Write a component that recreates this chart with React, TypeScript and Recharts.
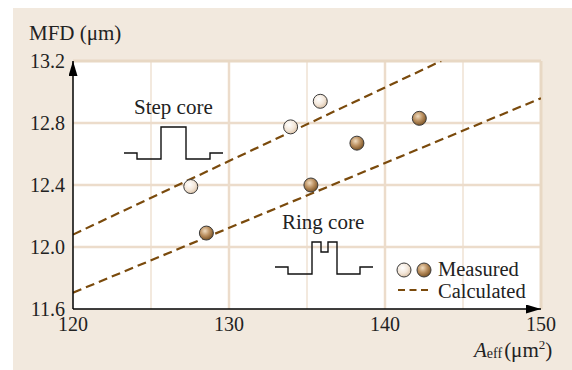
import React from 'react';
import { ComposedChart, Scatter, Line, XAxis, YAxis, CartesianGrid } from 'recharts';

const stepCoreX = [127.55, 133.95, 135.85];
const stepCoreY = [12.39, 12.775, 12.94];
const ringCoreX = [128.55, 135.25, 138.2, 142.2];
const ringCoreY = [12.09, 12.4, 12.67, 12.83];
const calcUpperX = [120, 143.6];
const calcUpperY = [12.08, 13.2];
const calcLowerX = [120, 150];
const calcLowerY = [11.705, 12.96];
const xTicks = [120, 130, 140, 150];
const yTicks = [11.6, 12.0, 12.4, 12.8, 13.2];

const stepCore = stepCoreX.map((x, i) => ({ x, y: stepCoreY[i] }));
const ringCore = ringCoreX.map((x, i) => ({ x, y: ringCoreY[i] }));
const calcUpper = calcUpperX.map((x, i) => ({ x, y: calcUpperY[i] }));
const calcLower = calcLowerX.map((x, i) => ({ x, y: calcLowerY[i] }));

const FONT = '"Liberation Serif", "Times New Roman", serif';
const LINE_COLOR = '#7a4a0c';

const LightDot = (p: any) => (
  <circle cx={p.cx} cy={p.cy} r={7} fill="url(#gLight)" stroke="#3a3a3a" strokeWidth={1} />
);
const DarkDot = (p: any) => (
  <circle cx={p.cx} cy={p.cy} r={7} fill="url(#gDark)" stroke="#3a3a3a" strokeWidth={1} />
);

export default function App() {
  return (
    <div style={{ position: 'absolute', left: 0, top: 0, width: 572, height: 370, background: '#ffffff', fontFamily: FONT }}>
      <div style={{ position: 'absolute', left: 13, top: 8, width: 559, height: 362, background: '#f2e9de' }} />
      <svg width={0} height={0} style={{ position: 'absolute' }}>
        <defs>
          <radialGradient id="gLight" cx="40%" cy="35%" r="65%">
            <stop offset="0%" stopColor="#ffffff" />
            <stop offset="60%" stopColor="#f3e7da" />
            <stop offset="100%" stopColor="#dcc4aa" />
          </radialGradient>
          <radialGradient id="gDark" cx="40%" cy="35%" r="65%">
            <stop offset="0%" stopColor="#f0dcc0" />
            <stop offset="50%" stopColor="#bd9364" />
            <stop offset="100%" stopColor="#7d5526" />
          </radialGradient>
          <marker id="axArrow" markerUnits="userSpaceOnUse" markerWidth={16} markerHeight={9} refX={15} refY={4.5} orient="auto-start-reverse">
            <path d="M0,0 L15,4.5 L0,9 z" fill="#000" />
          </marker>
        </defs>
      </svg>
      <div style={{ position: 'absolute', left: 0, top: 0 }}>
        <ComposedChart width={572} height={370} margin={{ top: 61, right: 31, bottom: 31, left: 13 }}>
          <CartesianGrid fill="#ffffff" horizontal={false} vertical={false} />
          <CartesianGrid horizontal={false} verticalValues={[125, 135, 145]} stroke="#f3e9de" strokeWidth={2} />
          <CartesianGrid horizontalValues={[12.0, 12.4, 12.8]} verticalValues={[130, 140]} stroke="#ecdccb" strokeWidth={2.5} />
          <CartesianGrid horizontalValues={[13.2]} verticalValues={[150]} stroke="#e8d8c4" strokeWidth={3} />
          <XAxis
            dataKey="x"
            type="number"
            domain={[120, 150]}
            ticks={xTicks}
            allowDataOverflow
            height={30}
            tickLine={false}
            axisLine={{ stroke: '#000', strokeWidth: 1.5, markerEnd: 'url(#axArrow)' } as any}
            tick={{ fill: '#222', fontSize: 20, fontFamily: FONT }}
          />
          <YAxis
            dataKey="y"
            type="number"
            domain={[11.6, 13.2]}
            ticks={yTicks}
            allowDataOverflow
            width={60}
            tickLine={false}
            tickFormatter={(v: number) => v.toFixed(1)}
            axisLine={{ stroke: '#000', strokeWidth: 1.5, markerStart: 'url(#axArrow)' } as any}
            tick={{ fill: '#222', fontSize: 20, fontFamily: FONT }}
          />
          <Line data={calcUpper} dataKey="y" type="linear" stroke={LINE_COLOR} strokeWidth={2.2} strokeDasharray="9 5" dot={false} activeDot={false} isAnimationActive={false} />
          <Line data={calcLower} dataKey="y" type="linear" stroke={LINE_COLOR} strokeWidth={2.2} strokeDasharray="9 5" dot={false} activeDot={false} isAnimationActive={false} />
          <Scatter data={stepCore} dataKey="y" shape={LightDot} isAnimationActive={false} />
          <Scatter data={ringCore} dataKey="y" shape={DarkDot} isAnimationActive={false} />
        </ComposedChart>
      </div>
      <svg width={572} height={370} style={{ position: 'absolute', left: 0, top: 0, pointerEvents: 'none' }} fontFamily={FONT}>
        <text x={29} y={40} fontSize={21} fill="#222">MFD (μm)</text>
        <text x={134} y={114} fontSize={21} fill="#222">Step core</text>
        <polyline points="124,153 137,153 137,159 161,159 161,127 186,127 186,159 210,159 210,153 223,153" fill="none" stroke="#111" strokeWidth={1.4} />
        <text x={282} y={229} fontSize={21} fill="#222">Ring core</text>
        <polyline points="275,267 288,267 288,274 312,274 312,242 321,242 321,252 328,252 328,242 337,242 337,274 360,274 360,267 373,267" fill="none" stroke="#111" strokeWidth={1.4} />
        <circle cx={404} cy={270} r={7} fill="url(#gLight)" stroke="#3a3a3a" strokeWidth={1} />
        <circle cx={424} cy={270} r={7} fill="url(#gDark)" stroke="#3a3a3a" strokeWidth={1} />
        <text x={438} y={276} fontSize={20.5} fill="#222">Measured</text>
        <line x1={398} y1={290} x2={429} y2={290} stroke={LINE_COLOR} strokeWidth={2} strokeDasharray="7 4.5" />
        <text x={438} y={298} fontSize={20.5} fill="#222">Calculated</text>
        <text x={474} y={357} fontSize={21} fill="#222">
          <tspan fontStyle="italic">A</tspan>
          <tspan fontSize={14} dy={1}>eff</tspan>
          <tspan dy={-1} dx={2}>(μm</tspan>
          <tspan fontSize={13} dy={-8}>2</tspan>
          <tspan dy={8}>)</tspan>
        </text>
      </svg>
    </div>
  );
}
